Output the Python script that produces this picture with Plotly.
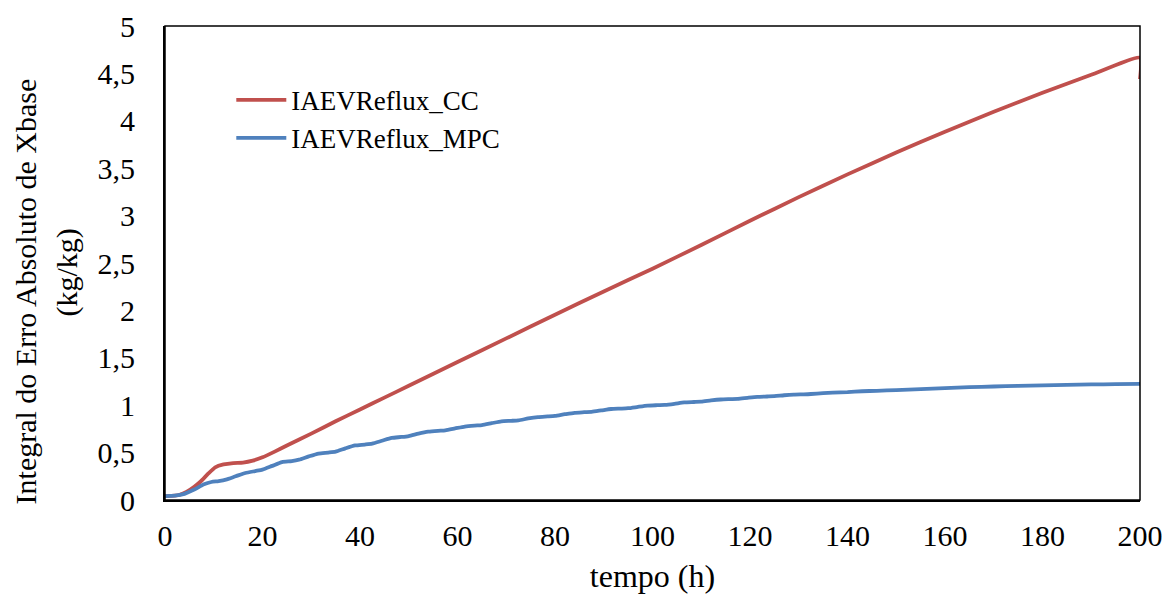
import plotly.graph_objects as go

# IAE curve, conventional control
tempo_cc = [0, 2, 3, 4.4, 6, 7.2, 8.9, 10.3, 12, 14, 16, 18, 20, 22.5, 25, 30, 35,
            40, 45, 50, 60, 70, 80, 90, 100, 110, 120, 130, 140, 150, 160, 170,
            180, 190, 200, 200]
iae_cc = [0.04, 0.045, 0.055, 0.085, 0.14, 0.19, 0.28, 0.345, 0.375, 0.39, 0.395,
          0.415, 0.45, 0.51, 0.575, 0.70, 0.83, 0.955, 1.08, 1.205, 1.455, 1.705,
          1.955, 2.20, 2.44, 2.69, 2.945, 3.195, 3.435, 3.665, 3.885, 4.095, 4.295,
          4.485, 4.665, 4.44]

# IAE curve, MPC
tempo_mpc = [0, 2, 4, 6, 8, 9.5, 11, 12.5, 14.5, 16.5, 18.5, 20, 22, 24, 26, 27.5,
             29.5, 31.5, 33.5, 35, 37, 39, 41, 42.5, 44.5, 46.5, 48.5, 50, 52, 54,
             56, 57.5, 59.5, 61.5, 63.5, 65, 67, 69, 71, 72.5, 74.5, 76.5, 78.5, 80,
             82, 84, 86, 87.5, 89.5, 91.5, 93.5, 95, 97, 99, 101, 102.5, 104.5,
             106.5, 108.5, 110, 112, 114, 116, 117.5, 119.5, 121.5, 123.5, 125,
             127, 129, 131, 132.5, 135, 137, 140, 143, 146, 150, 155, 160, 165,
             170, 175, 180, 185, 190, 195, 200]
iae_mpc = [0.04, 0.045, 0.065, 0.11, 0.165, 0.19, 0.20, 0.215, 0.25, 0.285, 0.305,
           0.32, 0.36, 0.40, 0.41, 0.425, 0.46, 0.49, 0.50, 0.51, 0.545, 0.575,
           0.585, 0.595, 0.625, 0.655, 0.665, 0.675, 0.70, 0.72, 0.73, 0.735,
           0.755, 0.775, 0.785, 0.79, 0.81, 0.83, 0.835, 0.84, 0.86, 0.875, 0.882,
           0.888, 0.905, 0.92, 0.926, 0.93, 0.945, 0.96, 0.964, 0.968, 0.982,
           0.995, 1.0, 1.003, 1.015, 1.03, 1.034, 1.037, 1.05, 1.06, 1.064, 1.067,
           1.078, 1.088, 1.092, 1.095, 1.105, 1.112, 1.115, 1.118, 1.127, 1.133,
           1.138, 1.147, 1.152, 1.16, 1.17, 1.18, 1.19, 1.197, 1.204, 1.21, 1.215,
           1.219, 1.222, 1.225]

x_ticks = [0, 20, 40, 60, 80, 100, 120, 140, 160, 180, 200]
y_ticks = [0, 0.5, 1, 1.5, 2, 2.5, 3, 3.5, 4, 4.5, 5]
y_labels = ["0", "0,5", "1", "1,5", "2", "2,5", "3", "3,5", "4", "4,5", "5"]
y_title = ["Integral do Erro Absoluto de Xbase", "(kg/kg)"]

fnt = "Liberation Serif, Times New Roman, serif"

fig = go.Figure()
fig.add_trace(go.Scatter(x=tempo_cc, y=iae_cc, mode="lines", name="IAEVReflux_CC",
                         line=dict(color="#C0504D", width=3.8, shape="spline",
                                   smoothing=0.5)))
fig.add_trace(go.Scatter(x=tempo_mpc, y=iae_mpc, mode="lines", name="IAEVReflux_MPC",
                         line=dict(color="#4F81BD", width=3.8, shape="spline",
                                   smoothing=0.6)))

fig.update_layout(
    width=1168, height=603,
    margin=dict(l=165, r=28, t=26, b=103),
    paper_bgcolor="white", plot_bgcolor="white",
    font=dict(family=fnt, size=30, color="black"),
    showlegend=True,
    legend=dict(x=0.068, y=0.895, xanchor="left", yanchor="top",
                bgcolor="rgba(0,0,0,0)", font=dict(size=27),
                itemwidth=50, tracegroupgap=4),
)
fig.update_xaxes(range=[0, 200], tickvals=x_ticks, showgrid=False, zeroline=False,
                 showline=True, linecolor="black", linewidth=2, automargin=False,
                 ticklabelstandoff=8,
                 title=dict(text="tempo (h)", standoff=14, font=dict(size=32)))
fig.update_yaxes(range=[0, 5], tickvals=y_ticks, ticktext=y_labels, showgrid=False,
                 zeroline=False, showline=True, linecolor="black", linewidth=2,
                 automargin=False, ticklabelstandoff=22)

# y title as two rotated lines (Excel centres them a bit below the plot middle)
fig.add_annotation(text=y_title[0], textangle=-90, xref="paper", yref="paper",
                   x=0, y=0.44, xanchor="center", yanchor="middle", xshift=-140,
                   showarrow=False, font=dict(size=30))
fig.add_annotation(text=y_title[1], textangle=-90, xref="paper", yref="paper",
                   x=0, y=0.48, xanchor="center", yanchor="middle", xshift=-98,
                   showarrow=False, font=dict(size=30))

# thin frame on top and right
fig.add_shape(type="rect", xref="paper", yref="paper", x0=0, y0=0, x1=1, y1=1,
              line=dict(color="black", width=1.5), layer="above")

fig.write_html("out.html", config={"displayModeBar": False},
               post_script="document.body.style.margin='0px';")
